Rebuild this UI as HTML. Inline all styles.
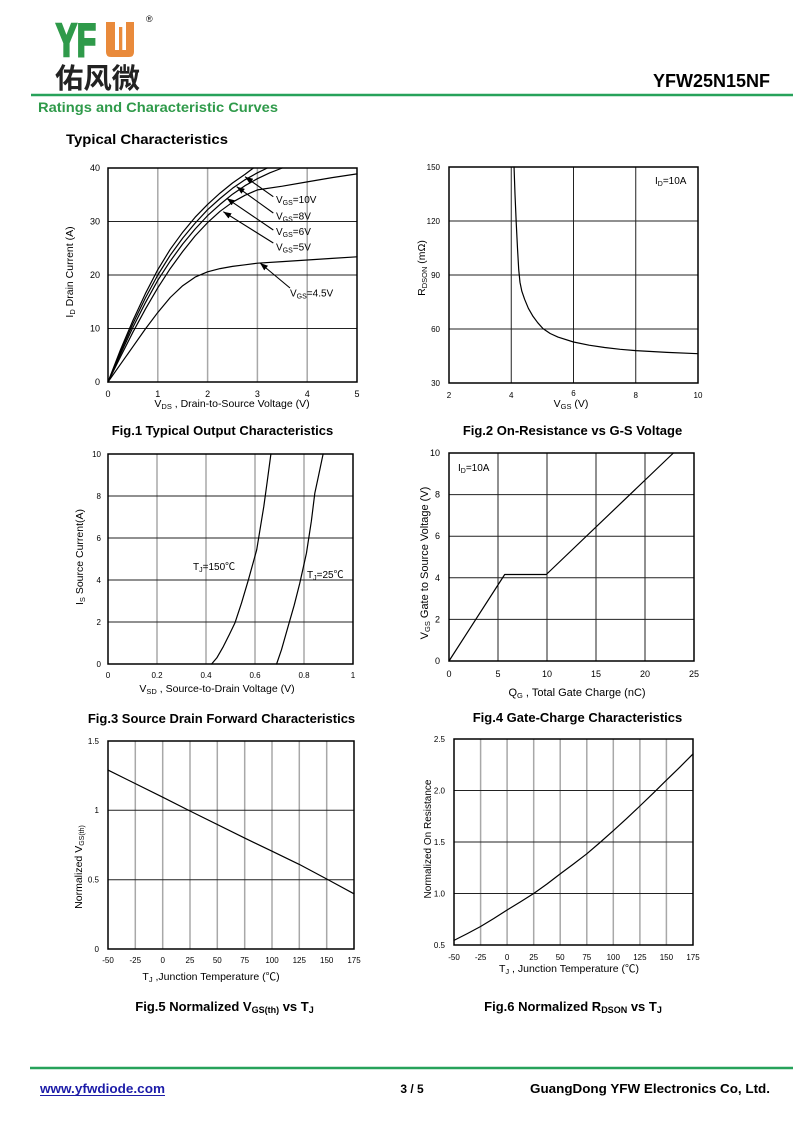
<!DOCTYPE html>
<html><head><meta charset="utf-8"><style>
html,body{margin:0;padding:0;background:#fff;}
svg{display:block;}
text{font-family:"Liberation Sans","Noto Sans CJK SC",Arial,sans-serif;}
.t{font-size:9px;}
.s{font-size:8px;}
.ax{font-size:10.5px;}
.ttl{font-size:13px;font-weight:bold;}
.vg{stroke:#a8a8a8;stroke-width:1.5;}
.hg{stroke:#222;stroke-width:1;}
.bx{fill:none;stroke:#000;stroke-width:1.5;}
.cv{fill:none;stroke:#000;stroke-width:1.2;stroke-linejoin:round;stroke-linecap:round;}
.ar{stroke:#000;stroke-width:1.1;}
</style></head><body>
<svg width="800" height="1130" viewBox="0 0 800 1130" xmlns="http://www.w3.org/2000/svg">
<defs>
<marker id="ah" markerWidth="8" markerHeight="6" refX="8" refY="3" orient="auto" markerUnits="userSpaceOnUse"><path d="M0,0 L8,3 L0,6 Z" fill="#000"/></marker>
</defs>
<rect width="800" height="1130" fill="#fff"/>

<!-- Header -->
<text x="56" y="56" font-size="46" font-weight="bold" style="fill:#2f9a4a;stroke:#2f9a4a;stroke-width:2.6;stroke-linejoin:miter" textLength="40" lengthAdjust="spacingAndGlyphs">YF</text>
<path d="M106 22 H115 V50 H119 V27 H122.3 V50 H126 V22 H134 V52 Q134 57 129 57 H111 Q106 57 106 52 Z" fill="#e98a3b"/>
<text x="146" y="22" font-size="9">®</text>
<text x="55" y="88" font-size="28" font-weight="bold" textLength="85" lengthAdjust="spacingAndGlyphs" style="font-family:'Noto Sans CJK SC','WenQuanYi Zen Hei',sans-serif;fill:#222">佑风微</text>
<text x="770" y="87" text-anchor="end" font-size="18" font-weight="bold">YFW25N15NF</text>
<line x1="31" y1="95" x2="793" y2="95" stroke="#27a25a" stroke-width="2.5"/>
<text x="38" y="112" font-size="14" font-weight="bold" style="fill:#2f9a4a" textLength="240" lengthAdjust="spacingAndGlyphs">Ratings and Characteristic Curves</text>
<text x="66" y="144" font-size="14" font-weight="bold" textLength="162" lengthAdjust="spacingAndGlyphs">Typical Characteristics</text>

<!-- ===== Fig1 ===== -->
<g>
<line class="vg" x1="157.8" y1="168" x2="157.8" y2="382"/>
<line class="vg" x1="207.6" y1="168" x2="207.6" y2="382"/>
<line class="vg" x1="257.4" y1="168" x2="257.4" y2="382"/>
<line class="vg" x1="307.2" y1="168" x2="307.2" y2="382"/>
<line class="hg" x1="108" y1="328.5" x2="357" y2="328.5"/>
<line class="hg" x1="108" y1="275" x2="357" y2="275"/>
<line class="hg" x1="108" y1="221.5" x2="357" y2="221.5"/>
<rect class="bx" x="108" y="168" width="249" height="214"/>
<g class="t" text-anchor="end">
<text x="100" y="385">0</text><text x="100" y="331.5">10</text><text x="100" y="278">20</text><text x="100" y="224.5">30</text><text x="100" y="171">40</text>
</g>
<g class="t" text-anchor="middle">
<text x="108" y="397">0</text><text x="157.8" y="397">1</text><text x="207.6" y="397">2</text><text x="257.4" y="397">3</text><text x="307.2" y="397">4</text><text x="357" y="397">5</text>
</g>
<polyline class="cv" points="108,382 120.45,349.9 132.9,320.5 145.35,293.7 157.8,269.65 170.25,249.3 182.7,232.2 195.15,217.2 207.6,204.4 220.05,193.1 232.5,183 244.95,174.4 253.4,168"/>
<polyline class="cv" points="108,382 120.45,352 132.9,323.7 145.35,298 157.8,275 170.25,255.2 182.7,238.1 195.15,223.1 207.6,209.7 220.05,198.5 232.5,188.3 244.95,179.8 257.4,172.8 267.4,168"/>
<polyline class="cv" points="108,382 120.45,354.2 132.9,327.4 145.35,302.8 157.8,280.35 170.25,261.1 182.7,244 195.15,229 207.6,215.6 220.05,204.4 232.5,194.2 244.95,185.7 257.4,178.7 269.85,172.8 282.3,168"/>
<polyline class="cv" points="108,382 120.45,356.9 132.9,332.2 145.35,309.2 157.8,287.8 170.25,268.6 182.7,251.5 195.15,235.9 207.6,222.6 220.05,211.3 232.5,202.2 244.95,195.3 257.4,189.9 282.3,186.2 307.2,181.9 332.1,177.6 357,173.9"/>
<polyline class="cv" points="108,382 120.45,364.3 132.9,346.7 145.35,329 157.8,312.45 170.25,297.5 182.7,285.7 195.15,277.1 207.6,271.8 220.05,268.6 232.5,266.4 244.95,264.8 257.4,263.2 282.3,261.6 307.2,260 332.1,258.4 357,256.8"/>
<line class="ar" x1="273.3" y1="196.7" x2="245" y2="176.7" marker-end="url(#ah)"/>
<line class="ar" x1="273.3" y1="213" x2="236.7" y2="186.7" marker-end="url(#ah)"/>
<line class="ar" x1="273.3" y1="230" x2="226.7" y2="198.3" marker-end="url(#ah)"/>
<line class="ar" x1="273.3" y1="243" x2="223.3" y2="211.7" marker-end="url(#ah)"/>
<line class="ar" x1="290" y1="288" x2="260" y2="263" marker-end="url(#ah)"/>
<g font-size="10">
<text x="276" y="203">V<tspan font-size="7" dy="2">GS</tspan><tspan dy="-2">=10V</tspan></text>
<text x="276" y="219.5">V<tspan font-size="7" dy="2">GS</tspan><tspan dy="-2">=8V</tspan></text>
<text x="276" y="235">V<tspan font-size="7" dy="2">GS</tspan><tspan dy="-2">=6V</tspan></text>
<text x="276" y="250.5">V<tspan font-size="7" dy="2">GS</tspan><tspan dy="-2">=5V</tspan></text>
<text x="290" y="296.5">V<tspan font-size="7" dy="2">GS</tspan><tspan dy="-2">=4.5V</tspan></text>
</g>
<text class="ax" x="232" y="407" text-anchor="middle">V<tspan font-size="7.5" dy="2">DS</tspan><tspan dy="-2"> , Drain-to-Source  Voltage (V)</tspan></text>
<text class="ax" transform="translate(73,272) rotate(-90)" text-anchor="middle">I<tspan font-size="7.5" dy="2">D</tspan><tspan dy="-2"> Drain Current  (A)</tspan></text>
<text class="ttl" x="222.5" y="435" text-anchor="middle">Fig.1 Typical Output Characteristics</text>
</g>

<!-- ===== Fig2 ===== -->
<g>
<line class="hg" x1="511.25" y1="167" x2="511.25" y2="383"/>
<line class="hg" x1="573.5" y1="167" x2="573.5" y2="383"/>
<line class="hg" x1="635.75" y1="167" x2="635.75" y2="383"/>
<line class="hg" x1="449" y1="329" x2="698" y2="329"/>
<line class="hg" x1="449" y1="275" x2="698" y2="275"/>
<line class="hg" x1="449" y1="221" x2="698" y2="221"/>
<rect class="bx" x="449" y="167" width="249" height="216"/>
<g class="s" text-anchor="end">
<text x="440" y="170">150</text><text x="440" y="224">120</text><text x="440" y="278">90</text><text x="440" y="332">60</text><text x="440" y="386">30</text>
</g>
<g class="s" text-anchor="middle">
<text x="449" y="398">2</text><text x="511.25" y="398">4</text><text x="573.5" y="396">6</text><text x="635.75" y="398">8</text><text x="698" y="398">10</text>
</g>
<polyline class="cv" points="514.05,167 514.99,194 516.23,222.8 517.48,248 518.72,269.6 519.97,282.2 521.83,291.2 524.63,299.3 528.37,308.3 533.04,316.4 537.71,322.7 543,328.6 550.16,333.5 557.94,337.1 573.5,342 589.06,345.2 604.63,347.5 620.19,349.3 635.75,350.6 666.88,352.4 698,353.7"/>
<text x="655" y="184" font-size="10">I<tspan font-size="7" dy="2">D</tspan><tspan dy="-2">=10A</tspan></text>
<text class="ax" x="571" y="407" text-anchor="middle">V<tspan font-size="7.5" dy="2">GS</tspan><tspan dy="-2"> (V)</tspan></text>
<text class="ax" transform="translate(425,268) rotate(-90)" text-anchor="middle">R<tspan font-size="7.5" dy="2">DSON</tspan><tspan dy="-2"> (mΩ)</tspan></text>
<text class="ttl" x="572.5" y="435" text-anchor="middle">Fig.2 On-Resistance vs G-S Voltage</text>
</g>

<!-- ===== Fig3 ===== -->
<g>
<line class="vg" x1="157" y1="454" x2="157" y2="664"/>
<line class="vg" x1="206" y1="454" x2="206" y2="664"/>
<line class="vg" x1="255" y1="454" x2="255" y2="664"/>
<line class="vg" x1="304" y1="454" x2="304" y2="664"/>
<line class="hg" x1="108" y1="622" x2="353" y2="622"/>
<line class="hg" x1="108" y1="580" x2="353" y2="580"/>
<line class="hg" x1="108" y1="538" x2="353" y2="538"/>
<line class="hg" x1="108" y1="496" x2="353" y2="496"/>
<rect class="bx" x="108" y="454" width="245" height="210"/>
<g class="s" text-anchor="end">
<text x="101" y="457">10</text><text x="101" y="499">8</text><text x="101" y="541">6</text><text x="101" y="583">4</text><text x="101" y="625">2</text><text x="101" y="667">0</text>
</g>
<g class="s" text-anchor="middle">
<text x="108" y="678">0</text><text x="157" y="678">0.2</text><text x="206" y="678">0.4</text><text x="255" y="678">0.6</text><text x="304" y="678">0.8</text><text x="353" y="678">1</text>
</g>
<polyline class="cv" points="211.6,664 216.8,657.9 223.4,646.4 229.3,634.6 234.9,623.05 241.5,603.1 248.4,579.8 256.7,549.8 263.8,506.5 267.25,481.3 270.9,454"/>
<polyline class="cv" points="276.6,664 281.5,649.7 288.1,626.4 294.2,605.2 299.8,583.15 306.45,553.1 311.35,521.2 314.8,493.3 318.7,475 323.1,454"/>
<text x="193" y="570" font-size="10">T<tspan font-size="7" dy="2">J</tspan><tspan dy="-2">=150℃</tspan></text>
<text x="307" y="578" font-size="10">T<tspan font-size="7" dy="2">J</tspan><tspan dy="-2">=25℃</tspan></text>
<text class="ax" x="217" y="692" text-anchor="middle">V<tspan font-size="7.5" dy="2">SD</tspan><tspan dy="-2"> , Source-to-Drain Voltage (V)</tspan></text>
<text class="ax" transform="translate(83,557) rotate(-90)" text-anchor="middle">I<tspan font-size="7.5" dy="2">S</tspan><tspan dy="-2"> Source Current(A)</tspan></text>
<text class="ttl" x="221.5" y="723" text-anchor="middle">Fig.3 Source Drain Forward Characteristics</text>
</g>

<!-- ===== Fig4 ===== -->
<g>
<line class="hg" x1="498" y1="453" x2="498" y2="661"/>
<line class="hg" x1="547" y1="453" x2="547" y2="661"/>
<line class="hg" x1="596" y1="453" x2="596" y2="661"/>
<line class="hg" x1="645" y1="453" x2="645" y2="661"/>
<line class="hg" x1="449" y1="619.4" x2="694" y2="619.4"/>
<line class="hg" x1="449" y1="577.8" x2="694" y2="577.8"/>
<line class="hg" x1="449" y1="536.2" x2="694" y2="536.2"/>
<line class="hg" x1="449" y1="494.6" x2="694" y2="494.6"/>
<rect class="bx" x="449" y="453" width="245" height="208"/>
<g class="t" text-anchor="end">
<text x="440" y="456">10</text><text x="440" y="497.6">8</text><text x="440" y="539.2">6</text><text x="440" y="580.8">4</text><text x="440" y="622.4">2</text><text x="440" y="664">0</text>
</g>
<g class="t" text-anchor="middle">
<text x="449" y="677">0</text><text x="498" y="677">5</text><text x="547" y="677">10</text><text x="596" y="677">15</text><text x="645" y="677">20</text><text x="694" y="677">25</text>
</g>
<polyline class="cv" points="449,661 504.7,574.5 546.3,574.5 673.4,453"/>
<text x="458" y="471" font-size="10">I<tspan font-size="7" dy="2">D</tspan><tspan dy="-2">=10A</tspan></text>
<text x="577" y="696" font-size="11" text-anchor="middle">Q<tspan font-size="7.5" dy="2">G</tspan><tspan dy="-2"> , Total Gate Charge (nC)</tspan></text>
<text font-size="11" transform="translate(428,563) rotate(-90)" text-anchor="middle">V<tspan font-size="7.5" dy="2">GS</tspan><tspan dy="-2">   Gate to Source Voltage (V)</tspan></text>
<text class="ttl" x="577.5" y="722" text-anchor="middle">Fig.4 Gate-Charge Characteristics</text>
</g>

<!-- ===== Fig5 ===== -->
<g>
<line class="vg" x1="135.3" y1="741" x2="135.3" y2="949"/>
<line class="vg" x1="162.7" y1="741" x2="162.7" y2="949"/>
<line class="vg" x1="190" y1="741" x2="190" y2="949"/>
<line class="vg" x1="217.3" y1="741" x2="217.3" y2="949"/>
<line class="vg" x1="244.7" y1="741" x2="244.7" y2="949"/>
<line class="vg" x1="272" y1="741" x2="272" y2="949"/>
<line class="vg" x1="299.3" y1="741" x2="299.3" y2="949"/>
<line class="vg" x1="326.7" y1="741" x2="326.7" y2="949"/>
<line class="hg" x1="108" y1="879.7" x2="354" y2="879.7"/>
<line class="hg" x1="108" y1="810.3" x2="354" y2="810.3"/>
<rect class="bx" x="108" y="741" width="246" height="208"/>
<g class="s" text-anchor="end">
<text x="99" y="744">1.5</text><text x="99" y="813">1</text><text x="99" y="882.5">0.5</text><text x="99" y="952">0</text>
</g>
<g class="s" text-anchor="middle">
<text x="108" y="963">-50</text><text x="135.3" y="963">-25</text><text x="162.7" y="963">0</text><text x="190" y="963">25</text><text x="217.3" y="963">50</text><text x="244.7" y="963">75</text><text x="272" y="963">100</text><text x="299.3" y="963">125</text><text x="326.7" y="963">150</text><text x="354" y="963">175</text>
</g>
<polyline class="cv" points="108,770.1 162.7,797.2 190,811 244.7,838.1 272,851.2 299.3,864.4 326.7,879 354,893.8"/>
<text class="ax" x="211" y="980" text-anchor="middle">T<tspan font-size="7.5" dy="2">J</tspan><tspan dy="-2"> ,Junction Temperature (℃)</tspan></text>
<text class="ax" transform="translate(82,867) rotate(-90)" text-anchor="middle">Normalized V<tspan font-size="7" dy="2">GS(th)</tspan></text>
<text class="ttl" x="224.5" y="1011" text-anchor="middle">Fig.5 Normalized V<tspan font-size="9" dy="2">GS(th)</tspan><tspan dy="-2"> vs T</tspan><tspan font-size="9" dy="2">J</tspan></text>
</g>

<!-- ===== Fig6 ===== -->
<g>
<line class="vg" x1="480.6" y1="739" x2="480.6" y2="945"/>
<line class="vg" x1="507.1" y1="739" x2="507.1" y2="945"/>
<line class="vg" x1="533.7" y1="739" x2="533.7" y2="945"/>
<line class="vg" x1="560.2" y1="739" x2="560.2" y2="945"/>
<line class="vg" x1="586.8" y1="739" x2="586.8" y2="945"/>
<line class="vg" x1="613.3" y1="739" x2="613.3" y2="945"/>
<line class="vg" x1="639.9" y1="739" x2="639.9" y2="945"/>
<line class="vg" x1="666.4" y1="739" x2="666.4" y2="945"/>
<line class="hg" x1="454" y1="893.5" x2="693" y2="893.5"/>
<line class="hg" x1="454" y1="842" x2="693" y2="842"/>
<line class="hg" x1="454" y1="790.5" x2="693" y2="790.5"/>
<rect class="bx" x="454" y="739" width="239" height="206"/>
<g class="s" text-anchor="end">
<text x="445" y="742">2.5</text><text x="445" y="793.5">2.0</text><text x="445" y="845">1.5</text><text x="445" y="896.5">1.0</text><text x="445" y="948">0.5</text>
</g>
<g class="s" text-anchor="middle">
<text x="454" y="960">-50</text><text x="480.6" y="960">-25</text><text x="507.1" y="960">0</text><text x="533.7" y="960">25</text><text x="560.2" y="960">50</text><text x="586.8" y="960">75</text><text x="613.3" y="960">100</text><text x="639.9" y="960">125</text><text x="666.4" y="960">150</text><text x="693" y="960">175</text>
</g>
<polyline class="cv" points="454,940.4 467.3,933.6 480.6,926.5 493.8,918.5 507.1,910 520.4,901.9 533.7,893.5 547,884 560.2,873.9 573.5,864 586.8,853.8 600,842.5 613.3,830.7 626.6,818.6 639.9,806 653.1,793.3 666.4,780.2 679.7,767.3 693,753.9"/>
<text class="ax" x="569" y="972" text-anchor="middle">T<tspan font-size="7.5" dy="2">J</tspan><tspan dy="-2"> , Junction Temperature (℃)</tspan></text>
<text font-size="10" transform="translate(431,839) rotate(-90)" text-anchor="middle">Normalized  On Resistance</text>
<text class="ttl" x="573" y="1011" text-anchor="middle">Fig.6 Normalized R<tspan font-size="9" dy="2">DSON</tspan><tspan dy="-2"> vs T</tspan><tspan font-size="9" dy="2">J</tspan></text>
</g>

<!-- Footer -->
<line x1="30" y1="1068" x2="793" y2="1068" stroke="#27a25a" stroke-width="2.5"/>
<text x="40" y="1093" font-size="13" font-weight="bold" style="fill:#1c1ca8" textLength="125" lengthAdjust="spacingAndGlyphs">www.yfwdiode.com</text>
<line x1="40" y1="1095.5" x2="165" y2="1095.5" stroke="#1c1ca8" stroke-width="1"/>
<text x="412" y="1093" font-size="12" font-weight="bold" text-anchor="middle">3 / 5</text>
<text x="530" y="1093" font-size="13" font-weight="bold" textLength="240" lengthAdjust="spacingAndGlyphs">GuangDong YFW Electronics Co, Ltd.</text>
</svg>
</body></html>
